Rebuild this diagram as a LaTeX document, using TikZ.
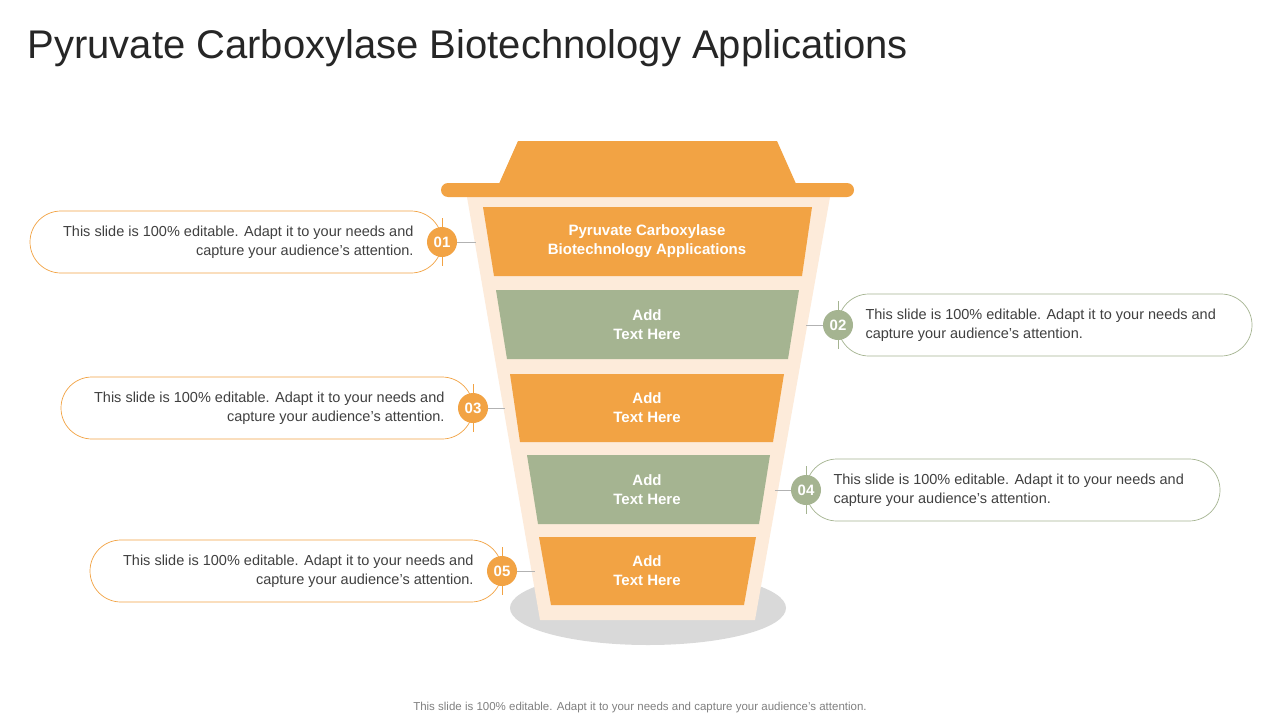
\documentclass[tikz,border=0pt]{standalone}
\usepackage{fontspec}
\setmainfont{Liberation Sans}
\definecolor{org}{HTML}{F2A344}
\definecolor{grn}{HTML}{A5B491}
\definecolor{crm}{HTML}{FDEBDA}
\definecolor{txt}{HTML}{404040}
\begin{document}
\begin{tikzpicture}[x=1pt,y=-1pt,
 band/.style={font=\fontsize{15}{19}\selectfont\bfseries, text=white, align=center},
 desc/.style={font=\fontsize{14.5}{19}\selectfont, text=txt},
 num/.style={circle, minimum size=30pt, inner sep=0pt, text=white, font=\fontsize{15}{15}\selectfont\bfseries},
 lnk/.style={draw=gray!60, line width=0.7pt}]
\useasboundingbox (0,0) rectangle (1280,720);
\fill[white] (0,0) rectangle (1280,720);
\node[anchor=west, font=\fontsize{40}{40}\selectfont, text=black!85] (title) at (24,48) {Pyruvate Carboxylase Biotechnology Applications};
% shadow
\fill[black!15] (648,608) ellipse[x radius=138, y radius=37];
% cup
\fill[crm] (467,197) -- (830,197) -- (755,620) -- (540,620) -- cycle;
\fill[org] (518,141) -- (777,141) -- (797,186) -- (498,186) -- cycle;
\fill[org, rounded corners=7] (441,183) rectangle (854,197);
% bands
\fill[org] (483,207) -- (812,207) -- (802,276) -- (494,276) -- cycle;
\fill[grn] (496,290) -- (799,290) -- (788,359) -- (507,359) -- cycle;
\fill[org] (510,374) -- (784,374) -- (773,442) -- (520,442) -- cycle;
\fill[grn] (527,455) -- (770,455) -- (759,524) -- (538,524) -- cycle;
\fill[org] (539,537) -- (756,537) -- (744,605) -- (551,605) -- cycle;
\node[band] (b1) at (647,241) {Pyruvate Carboxylase\\Biotechnology Applications};
\node[band] (b2) at (647,325) {Add\\Text Here};
\node[band] (b3) at (647,408) {Add\\Text Here};
\node[band] (b4) at (647,490) {Add\\Text Here};
\node[band] (b5) at (647,571) {Add\\Text Here};
% callouts
\foreach \i/\xl/\xr/\y/\c/\side in {1/30/442/242/org/L, 2/838/1252/325/grn/R, 3/61/473/408/org/L, 4/806/1220/490/grn/R, 5/90/502/571/org/L}{
  \draw[\c, line width=0.7pt, rounded corners=31] (\xl,\y-31) rectangle (\xr,\y+31);
}
\foreach \i/\x/\y/\c in {1/442/242/org, 2/838/325/grn, 3/473/408/org, 4/806/490/grn, 5/502/571/org}{
  \draw[\c, line width=0.7pt] (\x,\y-24) -- (\x,\y-15) (\x,\y+15) -- (\x,\y+24);
  \node[num, fill=\c] (n\i) at (\x,\y) {0\i};
}
\coordinate (e1) at (476,242); \coordinate (e2) at (806,325);
\coordinate (e3) at (505,408); \coordinate (e4) at (775,490);
\coordinate (e5) at (535,571);
\foreach \i in {1,...,5}{\draw[lnk] (n\i) -- (e\i);}
\node[desc, align=right, anchor=east] (d1) at (417,242) {This slide is 100\% editable.  Adapt it to your needs and\\capture your audience's attention.};
\node[desc, align=left, anchor=west] (d2) at (862,325) {This slide is 100\% editable.  Adapt it to your needs and\\capture your audience's attention.};
\node[desc, align=right, anchor=east] (d3) at (448,408) {This slide is 100\% editable.  Adapt it to your needs and\\capture your audience's attention.};
\node[desc, align=left, anchor=west] (d4) at (830,490) {This slide is 100\% editable.  Adapt it to your needs and\\capture your audience's attention.};
\node[desc, align=right, anchor=east] (d5) at (477,571) {This slide is 100\% editable.  Adapt it to your needs and\\capture your audience's attention.};
\node[font=\fontsize{11.5}{12}\selectfont, text=gray] (foot) at (640,708) {This slide is 100\% editable. Adapt it to your needs and capture your audience's attention.};
\end{tikzpicture}
\end{document}
